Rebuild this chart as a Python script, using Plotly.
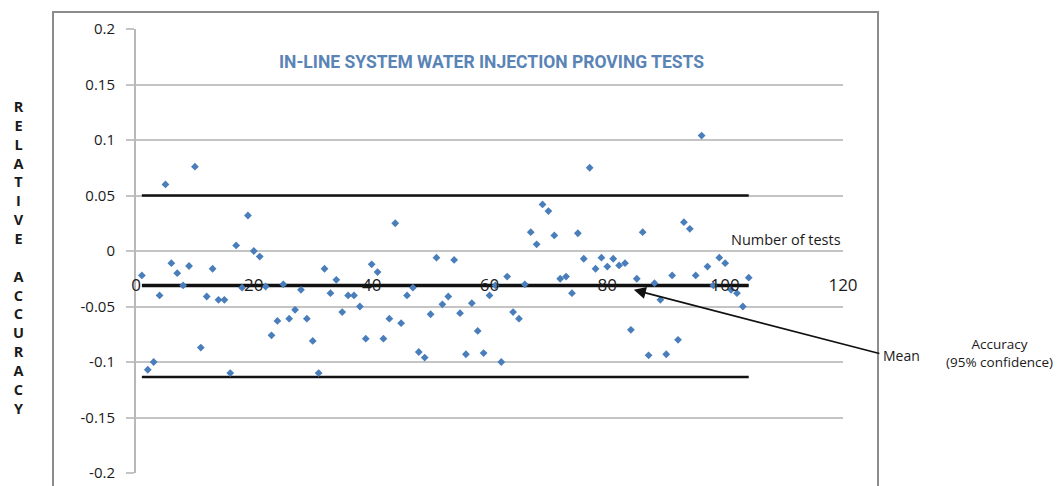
import plotly.graph_objects as go

# ---------------- data ----------------
test_no = list(range(1, 105))
rel_acc = [
    -0.022, -0.107, -0.100, -0.040, 0.060, -0.011, -0.020, -0.031, -0.0135, 0.076,
    -0.087, -0.041, -0.016, -0.044, -0.044, -0.110, 0.005, -0.033, 0.032, 0.000,
    -0.005, -0.032, -0.076, -0.063, -0.030, -0.061, -0.053, -0.035, -0.061, -0.081,
    -0.110, -0.016, -0.038, -0.026, -0.055, -0.040, -0.040, -0.050, -0.079, -0.012,
    -0.019, -0.079, -0.061, 0.025, -0.065, -0.040, -0.033, -0.091, -0.096, -0.057,
    -0.006, -0.048, -0.041, -0.008, -0.056, -0.093, -0.047, -0.072, -0.092, -0.040,
    -0.031, -0.100, -0.023, -0.055, -0.061, -0.030, 0.017, 0.006, 0.042, 0.036,
    0.014, -0.025, -0.023, -0.038, 0.016, -0.007, 0.075, -0.016, -0.006, -0.014,
    -0.007, -0.013, -0.011, -0.071, -0.025, 0.017, -0.094, -0.029, -0.044, -0.093,
    -0.022, -0.080, 0.026, 0.020, -0.022, 0.104, -0.014, -0.031, -0.006, -0.011,
    -0.035, -0.038, -0.050, -0.024,
]
line_x = [1, 104]
mean_val = [-0.031, -0.031]
upper_val = [0.050, 0.050]
lower_val = [-0.1135, -0.1135]

y_tickvals = [0.2, 0.15, 0.1, 0.05, 0, -0.05, -0.1, -0.15, -0.2]
y_ticktext = ["0.2", "0.15", "0.1", "0.05", "0", "-0.05", "-0.1", "-0.15", "-0.2"]
x_tickvals = [0, 20, 40, 60, 80, 100, 120]
x_ticktext = ["0", "20", "40", "60", "80", "100", "120"]

arrow_point = (84.5, -0.035)

title_text = "IN-LINE SYSTEM WATER INJECTION PROVING TESTS"
y_title = "RELATIVE ACCURACY"

# ---------------- layout helpers ----------------
# The page body adds an 8px offset; the figure is sized to fill the rest of the window.
OFF = 8
W, H = 1062 - OFF, 486 - OFF
ML, MR, MT, MB = 128, 219, 21, 13
PW, PH = W - ML - MR, H - MT - MB


def px_x(px):
    """screen x pixel -> paper x"""
    return (px - OFF - ML) / PW


def px_y(py):
    """screen y pixel -> paper y"""
    return (H - MB - (py - OFF)) / PH


fig = go.Figure()

for yy in (upper_val, lower_val):
    fig.add_trace(go.Scatter(x=line_x, y=yy, mode="lines",
                             line=dict(color="#111111", width=2.5),
                             showlegend=False, hoverinfo="skip"))
fig.add_trace(go.Scatter(x=line_x, y=mean_val, mode="lines",
                         line=dict(color="#111111", width=3.5),
                         showlegend=False, hoverinfo="skip"))
fig.add_trace(go.Scatter(x=test_no, y=rel_acc, mode="markers",
                         marker=dict(symbol="diamond", size=6, color="#4a7ebb"),
                         showlegend=False))

stacked = "<br>".join(ch if ch != " " else "\u00a0" for ch in y_title)

fig.update_layout(
    width=W, height=H,
    margin=dict(l=ML, r=MR, t=MT, b=MB, autoexpand=False),
    paper_bgcolor="white", plot_bgcolor="white",
    font=dict(family="Open Sans", color="#1a1a1a"),
    xaxis=dict(range=[0, 120], tickvals=x_tickvals, ticktext=x_ticktext,
               showgrid=False, zeroline=False, showline=False, ticks="",
               anchor="free", position=px_y(273), automargin=False,
               tickfont=dict(size=17, color="#1a1a1a", family="Open Sans")),
    yaxis=dict(range=[-0.2, 0.2], tickvals=y_tickvals, ticktext=y_ticktext,
               showgrid=True, gridcolor="#c4c4c4", gridwidth=1.5, automargin=False,
               zeroline=False, showline=True, linecolor="#b8b8b8", linewidth=2,
               ticks="outside", ticklen=8, tickcolor="#c4c4c4", tickwidth=1.5,
               ticklabelstandoff=8,
               tickfont=dict(size=15, color="#1a1a1a", family="Open Sans")),
)

fig.add_shape(type="rect", xref="paper", yref="paper",
              x0=px_x(53), x1=px_x(878), y0=px_y(500), y1=px_y(12),
              line=dict(color="#8c8c8c", width=2), fillcolor="rgba(0,0,0,0)",
              layer="below")

fig.add_annotation(xref="paper", yref="paper", x=px_x(491), y=px_y(62),
                   text="<b>" + title_text + "</b>", showarrow=False,
                   xanchor="center", yanchor="middle",
                   font=dict(family="Roboto", size=17.5, color="#5a84b6"))
fig.add_annotation(xref="paper", yref="paper", x=px_x(18), y=px_y(257),
                   text="<b>" + stacked + "</b>", showarrow=False,
                   xanchor="center", yanchor="middle",
                   font=dict(family="Open Sans", size=14.5, color="#1a1a1a"))
fig.add_annotation(xref="x", yref="y", x=120, y=0, text="Number of tests",
                   showarrow=False, xanchor="right", yanchor="bottom",
                   font=dict(family="Open Sans", size=14.5, color="#1a1a1a"))
fig.add_annotation(xref="x", yref="y", x=arrow_point[0], y=arrow_point[1],
                   text="", showarrow=True, ax=247, ay=64,
                   arrowhead=2, arrowsize=1.5, arrowwidth=1.6, arrowcolor="#111111")
fig.add_annotation(xref="paper", yref="paper", x=px_x(881), y=px_y(355),
                   text="Mean", showarrow=False, xanchor="left", yanchor="middle",
                   font=dict(family="Open Sans", size=14, color="#1a1a1a"))
fig.add_annotation(xref="paper", yref="paper", x=px_x(999), y=px_y(353),
                   text="Accuracy<br>(95% confidence)", showarrow=False,
                   xanchor="center", yanchor="middle", align="center",
                   font=dict(family="Open Sans", size=13.5, color="#1a1a1a"))

fig.write_html("out.html")
